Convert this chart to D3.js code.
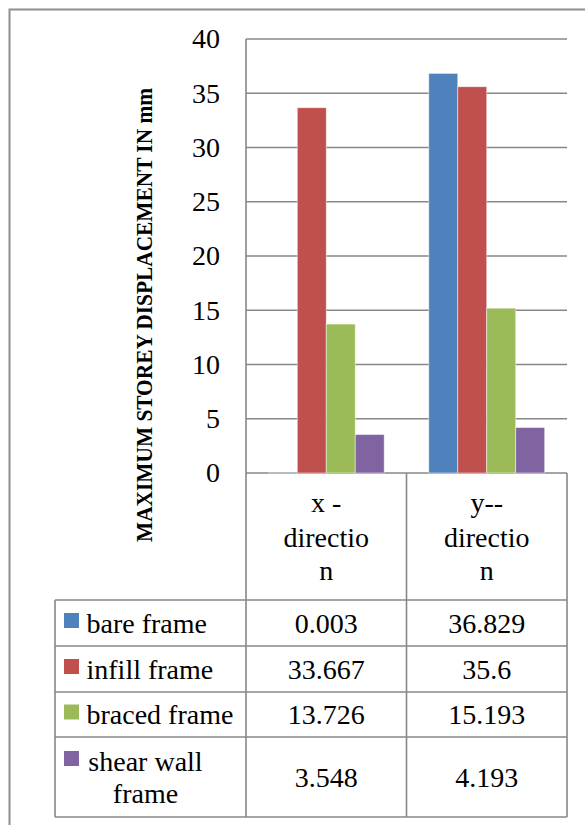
<!DOCTYPE html>
<html>
<head>
<meta charset="utf-8">
<script src="https://cdn.jsdelivr.net/npm/d3@7"></script>
<style>
  html, body { margin: 0; padding: 0; background: #fff; }
  svg { display: block; }
</style>
</head>
<body>
<script>
// Maximum storey displacement (mm) per frame type and loading direction
const categories = ["x - direction", "y-- direction"];
const categoryLines = [["x -", "directio", "n"], ["y--", "directio", "n"]];
const seriesNames = ["bare frame", "infill frame", "braced frame", "shear wall frame"];
const seriesLegendLines = [["bare frame"], ["infill frame"], ["braced frame"], ["shear wall", "frame"]];
const seriesColors = ["#4F81BD", "#C0504D", "#9BBB59", "#8064A2"];
const bareFrame = [0.003, 36.829];
const infillFrame = [33.667, 35.6];
const bracedFrame = [13.726, 15.193];
const shearWallFrame = [3.548, 4.193];
const valueLabels = [["0.003", "36.829"], ["33.667", "35.6"], ["13.726", "15.193"], ["3.548", "4.193"]];
const yTicks = [0, 5, 10, 15, 20, 25, 30, 35, 40];

const seriesValues = [bareFrame, infillFrame, bracedFrame, shearWallFrame];

const FONT = "'Liberation Serif', 'Times New Roman', Tinos, serif";
const W = 585, H = 825;
const plotL = 246, plotR = 567, plotT = 39, plotB = 473;
const tableL = 55;
const rowEdges = [600, 646, 692, 737, 817];
const gridColor = "#878787";

const svg = d3.select("body").append("svg")
  .attr("width", W).attr("height", H)
  .style("font-family", FONT);

function label(sel) {
  return sel.style("font-family", FONT).style("font-size", "28px").attr("fill", "#000");
}

// chart frame (top and left edges)
svg.append("path")
  .attr("d", `M9.5,${H} V9.5 H${W}`)
  .attr("fill", "none").attr("stroke", "#8e8e8e").attr("stroke-width", 2);

const y = d3.scaleLinear().domain([0, 40]).range([plotB, plotT]);
const x0 = d3.scaleBand().domain(categories).range([plotL, plotR]);
const x1 = d3.scaleBand().domain(seriesNames).range([0, x0.bandwidth()])
  .paddingInner(0).paddingOuter(0.77);

// horizontal gridlines
svg.append("g").selectAll("line").data(yTicks).join("line")
  .attr("x1", plotL).attr("x2", plotR)
  .attr("y1", d => y(d)).attr("y2", d => y(d))
  .attr("stroke", gridColor).attr("stroke-width", 1.6);

// value axis labels
const yAxis = d3.axisLeft(y).tickValues(yTicks).tickSize(0).tickPadding(26);
const gy = svg.append("g").attr("transform", `translate(${plotL},0)`).call(yAxis);
gy.attr("font-family", null).attr("font-size", null);
gy.select(".domain").remove();
label(gy.selectAll("text"));

// bars
const groups = svg.append("g").selectAll("g").data(categories).join("g")
  .attr("transform", d => `translate(${x0(d)},0)`);
groups.selectAll("rect")
  .data((c, ci) => seriesNames.map((s, si) => ({ s, si, v: seriesValues[si][ci] })))
  .join("rect")
  .attr("x", d => x1(d.s))
  .attr("width", x1.bandwidth())
  .attr("y", d => y(d.v))
  .attr("height", d => y(0) - y(d.v))
  .attr("fill", d => seriesColors[d.si])
  .attr("stroke", "rgba(255,255,255,0.6)").attr("stroke-width", 0.8);

// table lines
const lines = svg.append("g").attr("stroke", gridColor).attr("stroke-width", 1.6);
// value axis line running down through the header row
lines.append("line").attr("x1", plotL).attr("x2", plotL).attr("y1", plotT).attr("y2", rowEdges[4]);
// category column dividers
[x0(categories[1]), plotR].forEach(xx => {
  lines.append("line").attr("x1", xx).attr("x2", xx).attr("y1", plotB).attr("y2", rowEdges[4]);
});
// legend column left edge
lines.append("line").attr("x1", tableL).attr("x2", tableL).attr("y1", rowEdges[0]).attr("y2", rowEdges[4]);
// row lines
rowEdges.forEach(ry => {
  lines.append("line").attr("x1", tableL).attr("x2", plotR).attr("y1", ry).attr("y2", ry);
});

// category header text
const headerBaselines = [512, 547, 580];
categories.forEach((c, ci) => {
  const cx = x0(c) + x0.bandwidth() / 2;
  const t = label(svg.append("text").attr("text-anchor", "middle"));
  categoryLines[ci].forEach((ln, li) => {
    t.append("tspan").attr("x", cx).attr("y", headerBaselines[li]).text(ln);
  });
});

// legend cells and values
seriesNames.forEach((s, si) => {
  const top = rowEdges[si], bot = rowEdges[si + 1];
  const mid = (top + bot) / 2;
  const lns = seriesLegendLines[si];
  const lineH = 32;
  const firstBase = mid + 9.5 - (lns.length - 1) * lineH / 2;
  svg.append("rect")
    .attr("x", 64).attr("y", firstBase - 19.5)
    .attr("width", 15).attr("height", 15)
    .attr("fill", seriesColors[si]);
  const multi = lns.length > 1;
  const t = label(svg.append("text").attr("text-anchor", multi ? "middle" : "start"));
  lns.forEach((ln, li) => {
    t.append("tspan")
      .attr("x", multi ? 145.5 : 86.5)
      .attr("y", firstBase + li * lineH).text(ln);
  });
  categories.forEach((c, ci) => {
    label(svg.append("text"))
      .attr("x", x0(c) + x0.bandwidth() / 2)
      .attr("y", mid + 9.5)
      .attr("text-anchor", "middle")
      .text(valueLabels[si][ci]);
  });
});

// value axis title
svg.append("text")
  .attr("transform", "translate(152,315) rotate(-90)")
  .attr("text-anchor", "middle")
  .attr("textLength", 454).attr("lengthAdjust", "spacingAndGlyphs")
  .style("font-family", FONT)
  .style("font-size", "23px").style("font-weight", "bold").attr("fill", "#000")
  .text("MAXIMUM STOREY DISPLACEMENT IN mm");
</script>
</body>
</html>
